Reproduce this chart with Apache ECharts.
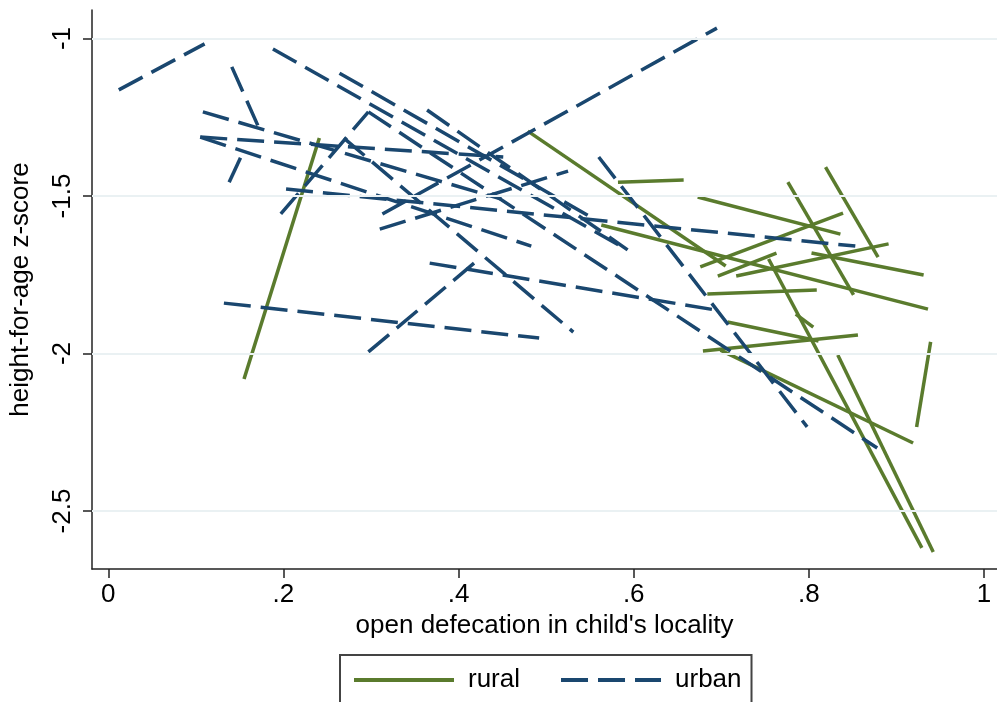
<!DOCTYPE html>
<html>
<head>
<meta charset="utf-8">
<script src="https://cdn.jsdelivr.net/npm/echarts@6/dist/echarts.min.js"></script>
<style>
  html, body { margin: 0; padding: 0; background: #fff; }
  #chart { width: 997px; height: 702px; }
</style>
</head>
<body>
<div id="chart"></div>
<script>
// each segment: [x1, y1, x2, y2]
var ruralLines = [
    [0.155, -2.081, 0.241, -1.316],
    [0.479, -1.294, 0.705, -1.722],
    [0.582, -1.456, 0.657, -1.449],
    [0.563, -1.592, 0.936, -1.859],
    [0.673, -1.503, 0.836, -1.621],
    [0.776, -1.456, 0.851, -1.814],
    [0.819, -1.408, 0.879, -1.694],
    [0.676, -1.725, 0.839, -1.554],
    [0.696, -1.754, 0.763, -1.681],
    [0.717, -1.754, 0.891, -1.652],
    [0.803, -1.681, 0.931, -1.751],
    [0.684, -1.811, 0.809, -1.798],
    [0.754, -1.700, 0.929, -2.617],
    [0.785, -1.875, 0.805, -1.916],
    [0.707, -1.900, 0.811, -1.960],
    [0.679, -1.992, 0.856, -1.941],
    [0.699, -1.989, 0.919, -2.284],
    [0.833, -2.005, 0.942, -2.630],
    [0.939, -1.963, 0.923, -2.233]
];
var urbanLines = [
    [0.012, -1.163, 0.110, -1.017],
    [0.141, -1.090, 0.173, -1.290],
    [0.138, -1.456, 0.154, -1.360],
    [0.105, -1.313, 0.451, -1.376],
    [0.108, -1.233, 0.449, -1.510],
    [0.105, -1.313, 0.483, -1.659],
    [0.188, -1.033, 0.585, -1.659],
    [0.264, -1.110, 0.551, -1.567],
    [0.269, -1.316, 0.531, -1.932],
    [0.197, -1.557, 0.297, -1.233],
    [0.310, -1.605, 0.525, -1.421],
    [0.313, -1.557, 0.695, -0.967],
    [0.132, -1.840, 0.492, -1.951],
    [0.297, -1.995, 0.422, -1.703],
    [0.367, -1.713, 0.694, -1.862],
    [0.560, -1.376, 0.798, -2.233],
    [0.297, -1.233, 0.878, -2.300],
    [0.203, -1.478, 0.853, -1.659],
    [0.364, -1.227, 0.593, -1.671]
];
var xTicks = [0, 0.2, 0.4, 0.6, 0.8, 1];
var xTickLabels = ['0', '.2', '.4', '.6', '.8', '1'];
var yTicks = [-1, -1.5, -2, -2.5];

var green = '#5a7b2d';
var navy = '#1a476f';
var font = 'Liberation Sans, Arial, sans-serif';

var series = [];
series.push({
    type: 'line',
    data: [],
    silent: true,
    markLine: {
        silent: true,
        symbol: 'none',
        label: { show: false },
        lineStyle: { color: '#eaf1f3', width: 2, type: 'solid' },
        data: yTicks.map(function (v) { return { yAxis: v }; })
    },
    z: 0
});
ruralLines.forEach(function (s) {
    series.push({
        name: 'rural', type: 'line', symbol: 'none', silent: true,
        data: [[s[0], s[1]], [s[2], s[3]]],
        lineStyle: { color: green, width: 3.5, type: 'solid' },
        itemStyle: { color: green },
        z: 2
    });
});
urbanLines.forEach(function (s) {
    series.push({
        name: 'urban', type: 'line', symbol: 'none', silent: true,
        data: [[s[0], s[1]], [s[2], s[3]]],
        lineStyle: { color: navy, width: 3.5, type: [27, 10] },
        itemStyle: { color: navy },
        z: 3
    });
});

var option = {
    animation: false,
    backgroundColor: '#fff',
    grid: { left: 90, right: 0, top: 10, bottom: 133 },
    legend: {
        data: ['rural', 'urban'],
        left: 340, top: 655,
        padding: [12, 10, 14, 12],
        itemWidth: 100, itemHeight: 14, itemGap: 39,
        itemStyle: { opacity: 0 },
        lineStyle: { width: 4 },
        borderColor: '#444', borderWidth: 2, backgroundColor: '#fff',
        textStyle: { fontFamily: font, fontSize: 26, color: '#000', padding: [0, 0, 0, 9] }
    },
    xAxis: {
        type: 'value',
        min: -0.0186, max: 1.0148,
        name: "open defecation in child's locality",
        nameLocation: 'middle', nameGap: 42,
        nameTextStyle: { fontFamily: font, fontSize: 26, color: '#000' },
        axisLine: { show: true, onZero: false, lineStyle: { color: '#222', width: 1.5 } },
        axisTick: { show: true, length: 9, customValues: xTicks, lineStyle: { color: '#222', width: 1.5 } },
        axisLabel: {
            customValues: xTicks, margin: 13,
            fontFamily: font, fontSize: 26, color: '#000',
            formatter: function (v) { return xTickLabels[xTicks.indexOf(v)]; }
        },
        splitLine: { show: false }
    },
    yAxis: {
        type: 'value',
        min: -2.684, max: -0.9095,
        name: 'height-for-age z-score',
        nameLocation: 'middle', nameGap: 58,
        nameTextStyle: { fontFamily: font, fontSize: 26, color: '#000' },
        axisLine: { show: true, onZero: false, lineStyle: { color: '#222', width: 1.5 } },
        axisTick: { show: true, length: 9, customValues: yTicks, lineStyle: { color: '#222', width: 1.5 } },
        axisLabel: {
            customValues: yTicks, margin: 16, rotate: 90,
            fontFamily: font, fontSize: 26, color: '#000',
            formatter: function (v) { return String(v); }
        },
        splitLine: { show: false }
    },
    series: series
};

var chart = echarts.init(document.getElementById('chart'), null, { renderer: 'canvas' });
chart.setOption(option);
</script>
</body>
</html>
